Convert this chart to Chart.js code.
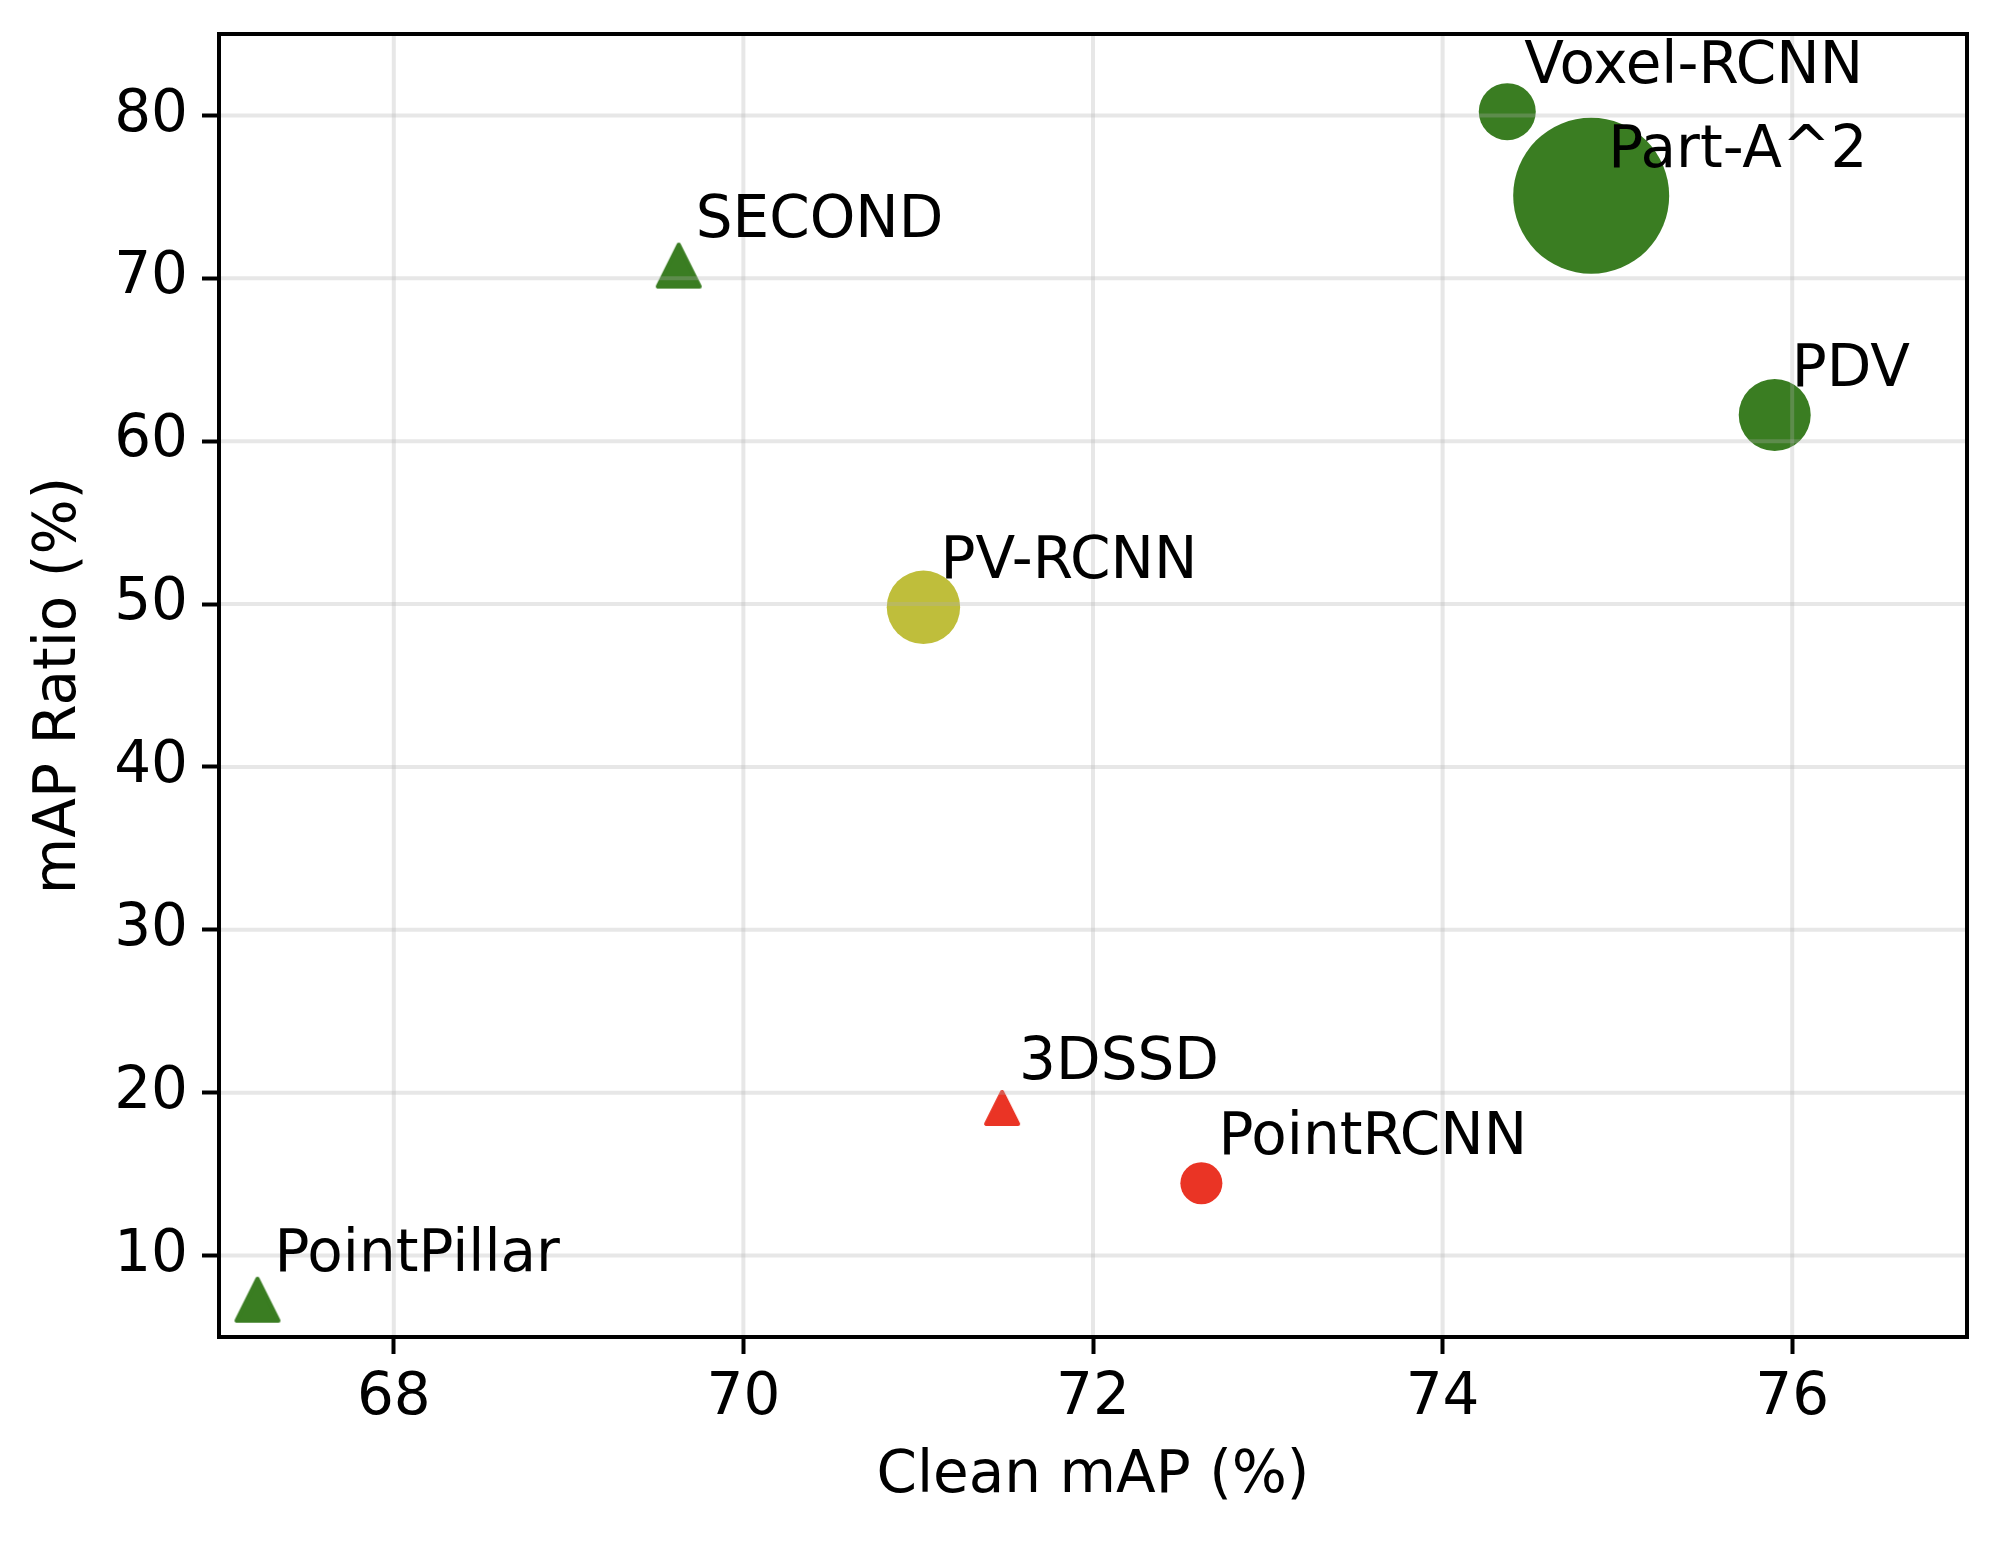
<!DOCTYPE html>
<html><head><meta charset="utf-8">
<script src="https://cdn.jsdelivr.net/npm/chart.js@4.4.1/dist/chart.umd.min.js"></script>
<style>html,body{margin:0;padding:0;background:#fff;} #wrap{width:2002px;height:1544px;}</style>
</head><body><div id="wrap"><canvas id="c" width="2002" height="1544"></canvas></div>
<script>
// ---- data ----
const models      = ['PointPillar', 'SECOND', '3DSSD', 'PointRCNN', 'PV-RCNN', 'Voxel-RCNN', 'Part-A^2', 'PDV'];
const cleanMAP    = [67.22, 69.63, 71.48, 72.62, 71.03, 74.37, 74.85, 75.90];
const mapRatio    = [7.29, 70.78, 19.06, 14.44, 49.80, 80.23, 75.07, 61.61];
const bubbleSize  = [23, 23, 18, 21, 36.7, 28.5, 78, 36];
const markerShape = ['triangle', 'triangle', 'triangle', 'circle', 'circle', 'circle', 'circle', 'circle'];
const colorGroup  = ['green', 'green', 'red', 'red', 'olive', 'green', 'green', 'green'];
const xTicks = [68, 70, 72, 74, 76];
const yTicks = [10, 20, 30, 40, 50, 60, 70, 80];

// ---- styles ----
const groupColor = { green: '#3a7d22', olive: '#bfbe3b', red: '#ea3425' };
const FONT = 'DejaVu Sans';
const FS = 58;
Chart.defaults.font.family = FONT;
Chart.defaults.color = '#000';

function makeTriangle(half, color) {
  const size = Math.ceil(half * 2 + 2);
  const cv = document.createElement('canvas');
  cv.width = size; cv.height = size;
  const g = cv.getContext('2d');
  const c = size / 2, h = half - 2;
  g.fillStyle = color; g.strokeStyle = color;
  g.lineWidth = 4; g.lineJoin = 'round';
  g.beginPath();
  g.moveTo(c, c - h);
  g.lineTo(c - h, c + h);
  g.lineTo(c + h, c + h);
  g.closePath();
  g.fill(); g.stroke();
  return cv;
}

const points = models.map((m, i) => ({ x: cleanMAP[i], y: mapRatio[i], r: bubbleSize[i] }));
const styles = models.map((m, i) => markerShape[i] === 'triangle'
  ? makeTriangle(bubbleSize[i], groupColor[colorGroup[i]]) : 'circle');

const overlay = {
  id: 'overlay',
  afterDatasetsDraw(chart) {
    const { ctx, chartArea: a, scales: { x, y } } = chart;
    ctx.save();
    ctx.beginPath(); ctx.rect(a.left, a.top, a.right - a.left, a.bottom - a.top); ctx.clip();
    ctx.strokeStyle = 'rgba(176,176,176,0.3)';
    ctx.lineWidth = 4;
    xTicks.forEach(v => { const p = x.getPixelForValue(v); ctx.beginPath(); ctx.moveTo(p, a.top); ctx.lineTo(p, a.bottom); ctx.stroke(); });
    yTicks.forEach(v => { const p = y.getPixelForValue(v); ctx.beginPath(); ctx.moveTo(a.left, p); ctx.lineTo(a.right, p); ctx.stroke(); });
    ctx.restore();

    ctx.save();
    ctx.font = FS + 'px "' + FONT + '"';
    ctx.fillStyle = '#000';
    ctx.textAlign = 'left';
    ctx.textBaseline = 'alphabetic';
    models.forEach((m, i) => {
      ctx.fillText(m, x.getPixelForValue(cleanMAP[i]) + 17, y.getPixelForValue(mapRatio[i]) - 29);
    });
    ctx.strokeStyle = '#000';
    ctx.lineWidth = 4;
    ctx.strokeRect(a.left, a.top, a.right - a.left, a.bottom - a.top);
    ctx.restore();
  }
};

function zeroPad(s) { s.paddingTop = 0; s.paddingBottom = 0; s.paddingLeft = 0; s.paddingRight = 0; }

new Chart(document.getElementById('c'), {
  type: 'bubble',
  data: {
    datasets: [{
      data: points,
      backgroundColor: models.map((m, i) => groupColor[colorGroup[i]]),
      borderWidth: 0,
      pointStyle: styles,
      hoverRadius: 0,
      clip: false
    }]
  },
  options: {
    responsive: false,
    animation: false,
    events: [],
    layout: { autoPadding: false, padding: { top: 34, right: 35, left: 0, bottom: 0 } },
    plugins: { legend: { display: false }, tooltip: { enabled: false } },
    scales: {
      x: {
        type: 'linear', min: 67, max: 77,
        afterBuildTicks: s => { s.ticks = xTicks.map(v => ({ value: v })); },
        afterFit: s => { s.height = 207; zeroPad(s); },
        grid: { drawOnChartArea: false, drawTicks: true, tickLength: 17, tickWidth: 4, tickColor: '#000' },
        border: { display: false },
        ticks: { font: { size: FS }, color: '#000', padding: 10, maxRotation: 0 },
        title: { display: true, text: 'Clean mAP (%)', font: { size: FS }, color: '#000', padding: { top: 0, bottom: 32 } }
      },
      y: {
        type: 'linear', min: 5, max: 85,
        afterBuildTicks: s => { s.ticks = yTicks.map(v => ({ value: v })); },
        afterFit: s => { s.width = 219; zeroPad(s); },
        grid: { drawOnChartArea: false, drawTicks: true, tickLength: 17, tickWidth: 4, tickColor: '#000' },
        border: { display: false },
        ticks: { font: { size: FS }, color: '#000', padding: 14 },
        title: { display: true, text: 'mAP Ratio (%)', font: { size: FS }, color: '#000', padding: { top: 25, bottom: 0 } }
      }
    }
  },
  plugins: [overlay]
});
</script></body></html>
